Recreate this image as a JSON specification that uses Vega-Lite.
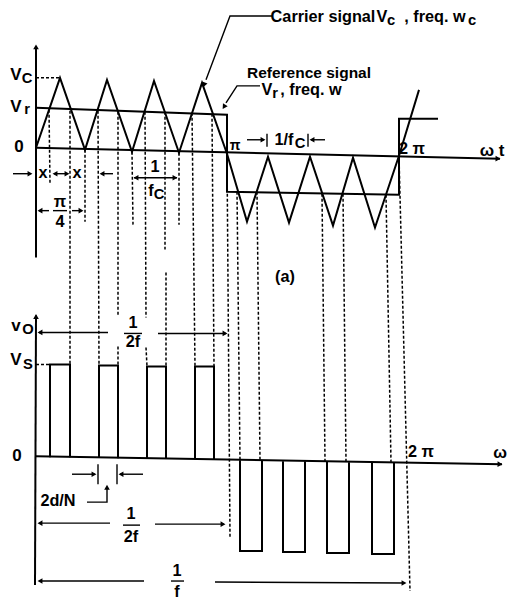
{
  "$schema": "https://vega.github.io/schema/vega-lite/v6.json",
  "width": 509,
  "height": 601,
  "padding": 0,
  "autosize": {"type": "fit", "contains": "padding"},
  "background": "white",
  "config": {"view": {"stroke": null}},
  "datasets": {
    "lines": [
      {"id": "carrier", "k": "s", "o": 0, "x": 36, "y": 148},
      {"id": "carrier", "k": "s", "o": 1, "x": 60, "y": 78},
      {"id": "carrier", "k": "s", "o": 2, "x": 85, "y": 150},
      {"id": "carrier", "k": "s", "o": 3, "x": 107, "y": 80},
      {"id": "carrier", "k": "s", "o": 4, "x": 132, "y": 152},
      {"id": "carrier", "k": "s", "o": 5, "x": 154, "y": 81},
      {"id": "carrier", "k": "s", "o": 6, "x": 179, "y": 153},
      {"id": "carrier", "k": "s", "o": 7, "x": 202, "y": 83},
      {"id": "carrier", "k": "s", "o": 8, "x": 227, "y": 154},
      {"id": "carrier", "k": "s", "o": 9, "x": 247, "y": 222},
      {"id": "carrier", "k": "s", "o": 10, "x": 268, "y": 157},
      {"id": "carrier", "k": "s", "o": 11, "x": 289, "y": 223},
      {"id": "carrier", "k": "s", "o": 12, "x": 310, "y": 157},
      {"id": "carrier", "k": "s", "o": 13, "x": 333, "y": 226},
      {"id": "carrier", "k": "s", "o": 14, "x": 353, "y": 158},
      {"id": "carrier", "k": "s", "o": 15, "x": 375, "y": 228},
      {"id": "carrier", "k": "s", "o": 16, "x": 399, "y": 156},
      {"id": "carrier", "k": "s", "o": 17, "x": 419, "y": 90},
      {"id": "ref", "k": "s", "o": 0, "x": 36, "y": 108},
      {"id": "ref", "k": "s", "o": 1, "x": 227, "y": 115},
      {"id": "ref", "k": "s", "o": 2, "x": 227, "y": 192},
      {"id": "ref", "k": "s", "o": 3, "x": 399, "y": 195},
      {"id": "ref", "k": "s", "o": 4, "x": 399, "y": 119},
      {"id": "ref", "k": "s", "o": 5, "x": 438, "y": 119},
      {"id": "ay1", "k": "s", "o": 0, "x": 36, "y": 46},
      {"id": "ay1", "k": "s", "o": 1, "x": 36, "y": 258},
      {"id": "ax1", "k": "s", "o": 0, "x": 36, "y": 148},
      {"id": "ax1", "k": "s", "o": 1, "x": 500, "y": 159},
      {"id": "ay2", "k": "s", "o": 0, "x": 36, "y": 316},
      {"id": "ay2", "k": "s", "o": 1, "x": 35, "y": 586},
      {"id": "ax2", "k": "s", "o": 0, "x": 36, "y": 457},
      {"id": "ax2", "k": "s", "o": 1, "x": 502, "y": 465},
      {"id": "p1", "k": "s", "o": 0, "x": 50, "y": 458},
      {"id": "p1", "k": "s", "o": 1, "x": 50, "y": 365},
      {"id": "p1", "k": "s", "o": 2, "x": 70, "y": 365},
      {"id": "p1", "k": "s", "o": 3, "x": 70, "y": 458},
      {"id": "p2", "k": "s", "o": 0, "x": 99, "y": 458},
      {"id": "p2", "k": "s", "o": 1, "x": 99, "y": 366},
      {"id": "p2", "k": "s", "o": 2, "x": 118, "y": 366},
      {"id": "p2", "k": "s", "o": 3, "x": 118, "y": 459},
      {"id": "p3", "k": "s", "o": 0, "x": 147, "y": 459},
      {"id": "p3", "k": "s", "o": 1, "x": 147, "y": 367},
      {"id": "p3", "k": "s", "o": 2, "x": 166, "y": 367},
      {"id": "p3", "k": "s", "o": 3, "x": 166, "y": 459},
      {"id": "p4", "k": "s", "o": 0, "x": 195, "y": 460},
      {"id": "p4", "k": "s", "o": 1, "x": 195, "y": 367},
      {"id": "p4", "k": "s", "o": 2, "x": 214, "y": 367},
      {"id": "p4", "k": "s", "o": 3, "x": 214, "y": 460},
      {"id": "n1", "k": "s", "o": 0, "x": 240, "y": 461},
      {"id": "n1", "k": "s", "o": 1, "x": 240, "y": 552},
      {"id": "n1", "k": "s", "o": 2, "x": 262, "y": 552},
      {"id": "n1", "k": "s", "o": 3, "x": 262, "y": 461},
      {"id": "n2", "k": "s", "o": 0, "x": 283, "y": 462},
      {"id": "n2", "k": "s", "o": 1, "x": 283, "y": 553},
      {"id": "n2", "k": "s", "o": 2, "x": 305, "y": 553},
      {"id": "n2", "k": "s", "o": 3, "x": 305, "y": 462},
      {"id": "n3", "k": "s", "o": 0, "x": 327, "y": 462},
      {"id": "n3", "k": "s", "o": 1, "x": 327, "y": 554},
      {"id": "n3", "k": "s", "o": 2, "x": 349, "y": 554},
      {"id": "n3", "k": "s", "o": 3, "x": 349, "y": 463},
      {"id": "n4", "k": "s", "o": 0, "x": 372, "y": 463},
      {"id": "n4", "k": "s", "o": 1, "x": 372, "y": 555},
      {"id": "n4", "k": "s", "o": 2, "x": 394, "y": 555},
      {"id": "n4", "k": "s", "o": 3, "x": 394, "y": 463},
      {"id": "lc", "k": "a", "o": 0, "x": 272, "y": 16},
      {"id": "lc", "k": "a", "o": 1, "x": 230, "y": 16},
      {"id": "lc", "k": "a", "o": 2, "x": 206, "y": 80},
      {"id": "lr", "k": "a", "o": 0, "x": 260, "y": 86},
      {"id": "lr", "k": "a", "o": 1, "x": 237, "y": 86},
      {"id": "lr", "k": "a", "o": 2, "x": 226, "y": 103},
      {"id": "a1", "k": "a", "o": 0, "x": 13, "y": 174},
      {"id": "a1", "k": "a", "o": 1, "x": 30, "y": 174},
      {"id": "a2", "k": "a", "o": 0, "x": 54, "y": 174},
      {"id": "a2", "k": "a", "o": 1, "x": 67, "y": 174},
      {"id": "a3", "k": "a", "o": 0, "x": 102, "y": 174},
      {"id": "a3", "k": "a", "o": 1, "x": 113, "y": 174},
      {"id": "fc", "k": "a", "o": 0, "x": 134, "y": 178},
      {"id": "fc", "k": "a", "o": 1, "x": 177, "y": 178},
      {"id": "q1", "k": "a", "o": 0, "x": 39, "y": 211},
      {"id": "q1", "k": "a", "o": 1, "x": 49, "y": 211},
      {"id": "q2", "k": "a", "o": 0, "x": 53, "y": 211},
      {"id": "q2", "k": "a", "o": 1, "x": 67, "y": 211},
      {"id": "q3", "k": "a", "o": 0, "x": 72, "y": 211},
      {"id": "q3", "k": "a", "o": 1, "x": 82, "y": 211},
      {"id": "t1", "k": "a", "o": 0, "x": 247, "y": 140},
      {"id": "t1", "k": "a", "o": 1, "x": 264, "y": 140},
      {"id": "t2", "k": "a", "o": 0, "x": 267, "y": 134},
      {"id": "t2", "k": "a", "o": 1, "x": 267, "y": 147},
      {"id": "t3", "k": "a", "o": 0, "x": 308, "y": 134},
      {"id": "t3", "k": "a", "o": 1, "x": 308, "y": 147},
      {"id": "t4", "k": "a", "o": 0, "x": 311, "y": 140},
      {"id": "t4", "k": "a", "o": 1, "x": 325, "y": 140},
      {"id": "h1", "k": "a", "o": 0, "x": 39, "y": 333},
      {"id": "h1", "k": "a", "o": 1, "x": 108, "y": 333},
      {"id": "h2", "k": "a", "o": 0, "x": 124, "y": 334},
      {"id": "h2", "k": "a", "o": 1, "x": 142, "y": 334},
      {"id": "h3", "k": "a", "o": 0, "x": 158, "y": 334},
      {"id": "h3", "k": "a", "o": 1, "x": 226, "y": 334},
      {"id": "d1", "k": "a", "o": 0, "x": 72, "y": 475},
      {"id": "d1", "k": "a", "o": 1, "x": 95, "y": 475},
      {"id": "d2", "k": "a", "o": 0, "x": 98, "y": 465},
      {"id": "d2", "k": "a", "o": 1, "x": 98, "y": 485},
      {"id": "d3", "k": "a", "o": 0, "x": 117, "y": 465},
      {"id": "d3", "k": "a", "o": 1, "x": 117, "y": 485},
      {"id": "d4", "k": "a", "o": 0, "x": 120, "y": 475},
      {"id": "d4", "k": "a", "o": 1, "x": 143, "y": 475},
      {"id": "d5", "k": "a", "o": 0, "x": 87, "y": 503},
      {"id": "d5", "k": "a", "o": 1, "x": 107, "y": 503},
      {"id": "d5", "k": "a", "o": 2, "x": 107, "y": 489},
      {"id": "g1", "k": "a", "o": 0, "x": 39, "y": 524},
      {"id": "g1", "k": "a", "o": 1, "x": 110, "y": 524},
      {"id": "g2", "k": "a", "o": 0, "x": 123, "y": 526},
      {"id": "g2", "k": "a", "o": 1, "x": 140, "y": 526},
      {"id": "g3", "k": "a", "o": 0, "x": 155, "y": 525},
      {"id": "g3", "k": "a", "o": 1, "x": 224, "y": 525},
      {"id": "f1", "k": "a", "o": 0, "x": 39, "y": 582},
      {"id": "f1", "k": "a", "o": 1, "x": 144, "y": 582},
      {"id": "f2", "k": "a", "o": 0, "x": 171, "y": 582},
      {"id": "f2", "k": "a", "o": 1, "x": 184, "y": 582},
      {"id": "f3", "k": "a", "o": 0, "x": 215, "y": 583},
      {"id": "f3", "k": "a", "o": 1, "x": 404, "y": 584}
    ],
    "dashes": [
      {"x": 36, "y": 78, "x2": 60, "y2": 78},
      {"x": 36, "y": 365, "x2": 50, "y2": 365},
      {"x": 49, "y": 110, "x2": 50, "y2": 183},
      {"x": 70, "y": 111, "x2": 70, "y2": 365},
      {"x": 85, "y": 150, "x2": 85, "y2": 222},
      {"x": 98, "y": 111, "x2": 99, "y2": 366},
      {"x": 118, "y": 112, "x2": 118, "y2": 317},
      {"x": 118, "y": 347, "x2": 118, "y2": 366},
      {"x": 132, "y": 152, "x2": 133, "y2": 225},
      {"x": 145, "y": 112, "x2": 146, "y2": 318},
      {"x": 146, "y": 348, "x2": 147, "y2": 367},
      {"x": 165, "y": 112, "x2": 165, "y2": 250},
      {"x": 166, "y": 273, "x2": 166, "y2": 367},
      {"x": 179, "y": 153, "x2": 179, "y2": 225},
      {"x": 192, "y": 113, "x2": 195, "y2": 367},
      {"x": 212, "y": 114, "x2": 214, "y2": 367},
      {"x": 227, "y": 154, "x2": 230, "y2": 538},
      {"x": 237, "y": 192, "x2": 240, "y2": 461},
      {"x": 257, "y": 192, "x2": 260, "y2": 461},
      {"x": 322, "y": 194, "x2": 325, "y2": 462},
      {"x": 343, "y": 194, "x2": 346, "y2": 462},
      {"x": 386, "y": 195, "x2": 391, "y2": 463},
      {"x": 399, "y": 156, "x2": 410, "y2": 592}
    ],
    "arrows": [
      {"x": 36, "y": 47, "ang": 0},
      {"x": 498, "y": 159, "ang": 91},
      {"x": 36, "y": 317, "ang": 0},
      {"x": 500, "y": 465, "ang": 91},
      {"x": 204, "y": 85, "ang": 200},
      {"x": 224, "y": 107, "ang": 213},
      {"x": 30, "y": 174, "ang": 90},
      {"x": 55, "y": 174, "ang": 270},
      {"x": 67, "y": 174, "ang": 90},
      {"x": 102, "y": 174, "ang": 270},
      {"x": 136, "y": 178, "ang": 270},
      {"x": 175, "y": 178, "ang": 90},
      {"x": 40, "y": 211, "ang": 270},
      {"x": 81, "y": 211, "ang": 90},
      {"x": 263, "y": 140, "ang": 90},
      {"x": 312, "y": 140, "ang": 270},
      {"x": 40, "y": 333, "ang": 270},
      {"x": 225, "y": 334, "ang": 90},
      {"x": 94, "y": 475, "ang": 90},
      {"x": 121, "y": 475, "ang": 270},
      {"x": 107, "y": 488, "ang": 0},
      {"x": 40, "y": 524, "ang": 270},
      {"x": 223, "y": 525, "ang": 90},
      {"x": 40, "y": 582, "ang": 270},
      {"x": 404, "y": 584, "ang": 90}
    ],
    "texts": [
      {"t": "V", "kind": "L", "x": 16, "y": 75},
      {"t": "V", "kind": "L", "x": 16, "y": 107},
      {"t": "0", "kind": "L", "x": 19, "y": 147},
      {"t": "v", "kind": "L", "x": 16, "y": 327},
      {"t": "V", "kind": "L", "x": 16, "y": 361},
      {"t": "0", "kind": "L", "x": 17, "y": 457},
      {"t": "ω t", "kind": "L", "x": 492, "y": 151},
      {"t": "C", "kind": "S", "x": 27, "y": 79},
      {"t": "r", "kind": "S", "x": 27, "y": 110},
      {"t": "O", "kind": "S", "x": 28, "y": 331},
      {"t": "S", "kind": "S", "x": 28, "y": 366},
      {"t": "C", "kind": "S", "x": 159, "y": 195},
      {"t": "C", "kind": "S", "x": 300, "y": 144},
      {"t": "c", "kind": "S", "x": 391, "y": 21},
      {"t": "c", "kind": "S", "x": 472, "y": 21},
      {"t": "r", "kind": "S", "x": 275, "y": 94},
      {"t": "1", "kind": "M", "x": 155, "y": 167},
      {"t": "f", "kind": "M", "x": 151, "y": 191},
      {"t": "π", "kind": "M", "x": 60, "y": 202},
      {"t": "4", "kind": "M", "x": 60, "y": 222},
      {"t": "x", "kind": "M", "x": 43, "y": 173},
      {"t": "x", "kind": "M", "x": 77, "y": 173},
      {"t": "1", "kind": "M", "x": 133, "y": 324},
      {"t": "2f", "kind": "M", "x": 133, "y": 343},
      {"t": "2d/N", "kind": "M", "x": 58, "y": 502},
      {"t": "1", "kind": "M", "x": 131, "y": 515},
      {"t": "2f", "kind": "M", "x": 131, "y": 538},
      {"t": "1", "kind": "M", "x": 177, "y": 572},
      {"t": "f", "kind": "M", "x": 177, "y": 593},
      {"t": "1/f", "kind": "M", "x": 284, "y": 140},
      {"t": "Carrier signal", "kind": "M", "x": 323, "y": 17},
      {"t": "V", "kind": "M", "x": 382, "y": 17},
      {"t": ", freq. w", "kind": "M", "x": 435, "y": 17},
      {"t": "V", "kind": "M", "x": 267, "y": 90},
      {"t": ", freq. w", "kind": "M", "x": 311, "y": 90},
      {"t": "(a)", "kind": "M", "x": 285, "y": 277},
      {"t": "2 π", "kind": "M", "x": 412, "y": 149},
      {"t": "2 π", "kind": "M", "x": 421, "y": 453},
      {"t": "ω", "kind": "M", "x": 500, "y": 454},
      {"t": "π", "kind": "P", "x": 235, "y": 146},
      {"t": "Reference signal", "kind": "R", "x": 309, "y": 73}
    ]
  },
  "encoding": {
    "x": {"field": "x", "type": "quantitative", "scale": {"domain": [0, 509], "nice": false, "zero": false}, "axis": null},
    "y": {"field": "y", "type": "quantitative", "scale": {"domain": [0, 601], "nice": false, "zero": false, "reverse": true}, "axis": null}
  },
  "layer": [
    {
      "data": {"name": "dashes"},
      "mark": {"type": "rule", "color": "black", "strokeWidth": 1.5, "strokeDash": [3, 2]},
      "encoding": {
        "x2": {"field": "x2"},
        "y2": {"field": "y2"}
      }
    },
    {
      "data": {"name": "lines"},
      "transform": [{"filter": "datum.k === 's'"}],
      "mark": {"type": "line", "color": "black", "strokeWidth": 2, "strokeJoin": "miter"},
      "encoding": {
        "detail": {"field": "id", "type": "nominal"},
        "order": {"field": "o", "type": "quantitative"}
      }
    },
    {
      "data": {"name": "lines"},
      "transform": [{"filter": "datum.k === 'a'"}],
      "mark": {"type": "line", "color": "black", "strokeWidth": 1.4},
      "encoding": {
        "detail": {"field": "id", "type": "nominal"},
        "order": {"field": "o", "type": "quantitative"}
      }
    },
    {
      "data": {"name": "arrows"},
      "mark": {"type": "point", "shape": "triangle-up", "filled": true, "color": "black", "size": 32, "opacity": 1},
      "encoding": {
        "angle": {"field": "ang", "type": "quantitative", "scale": null}
      }
    },
    {
      "data": {"name": "texts"},
      "mark": {"type": "text", "font": "Liberation Sans", "fontWeight": "bold", "color": "black", "align": "center", "baseline": "middle"},
      "encoding": {
        "text": {"field": "t"},
        "size": {"field": "kind", "type": "nominal", "scale": {"domain": ["L", "M", "R", "S", "P"], "range": [17, 14, 15, 11, 12]}, "legend": null}
      }
    }
  ]
}
